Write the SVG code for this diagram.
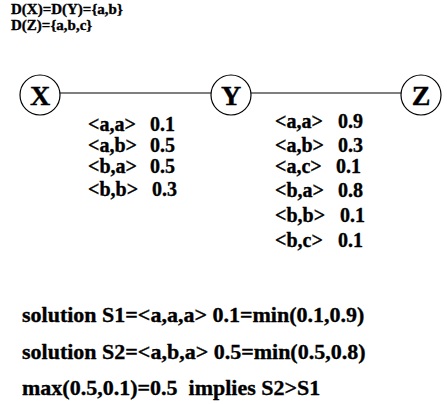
<svg xmlns="http://www.w3.org/2000/svg" width="447" height="404" viewBox="0 0 447 404">
<style>
text{font-family:"Liberation Serif","Times New Roman",serif;font-weight:bold;fill:#000;stroke:#000;stroke-width:0.35}
.hd{font-size:15px}
.tb{font-size:20px}
.bt{font-size:22px}
.nl{font-size:28px;text-anchor:middle}
.nd{fill:#fff;stroke:#000;stroke-width:1.2}
.ed{stroke:#000;stroke-width:1.2;fill:none}
</style>
<rect width="447" height="404" fill="#fff"/>
<g id="header">
<text class="hd" x="11" y="14">D(X)=D(Y)={a,b}</text>
<text class="hd" x="11" y="30">D(Z)={a,b,c}</text>
</g>
<g id="connectors">
<line class="ed" x1="60" y1="93" x2="211" y2="93"/>
<line class="ed" x1="251" y1="93" x2="401" y2="93"/>
</g>
<g id="node-X">
<circle class="nd" cx="40" cy="95" r="20"/>
<text class="nl" x="40" y="105">X</text>
</g>
<g id="node-Y">
<circle class="nd" cx="231" cy="95" r="20"/>
<text class="nl" x="231" y="105">Y</text>
</g>
<g id="node-Z">
<circle class="nd" cx="421" cy="95" r="20"/>
<text class="nl" x="421" y="105">Z</text>
</g>
<g id="table-XY">
<text class="tb" x="88" y="131">&lt;a,a&gt;</text><text class="tb" x="150" y="131">0.1</text>
<text class="tb" x="88" y="152">&lt;a,b&gt;</text><text class="tb" x="150" y="152">0.5</text>
<text class="tb" x="88" y="173">&lt;b,a&gt;</text><text class="tb" x="150" y="173">0.5</text>
<text class="tb" x="88" y="196">&lt;b,b&gt;</text><text class="tb" x="152" y="196">0.3</text>
</g>
<g id="table-YZ">
<text class="tb" x="275" y="128">&lt;a,a&gt;</text><text class="tb" x="338" y="128">0.9</text>
<text class="tb" x="275" y="152">&lt;a,b&gt;</text><text class="tb" x="338" y="152">0.3</text>
<text class="tb" x="275" y="173">&lt;a,c&gt;</text><text class="tb" x="336" y="173">0.1</text>
<text class="tb" x="275" y="197">&lt;b,a&gt;</text><text class="tb" x="338" y="197">0.8</text>
<text class="tb" x="275" y="222">&lt;b,b&gt;</text><text class="tb" x="340" y="222">0.1</text>
<text class="tb" x="275" y="247">&lt;b,c&gt;</text><text class="tb" x="338" y="247">0.1</text>
</g>
<g id="solutions">
<text class="bt" x="22" y="322">solution S1=&lt;a,a,a&gt; 0.1=min(0.1,0.9)</text>
<text class="bt" x="22" y="359">solution S2=&lt;a,b,a&gt; 0.5=min(0.5,0.8)</text>
<text class="bt" x="22" y="395" xml:space="preserve">max(0.5,0.1)=0.5  implies S2&gt;S1</text>
</g>
</svg>
